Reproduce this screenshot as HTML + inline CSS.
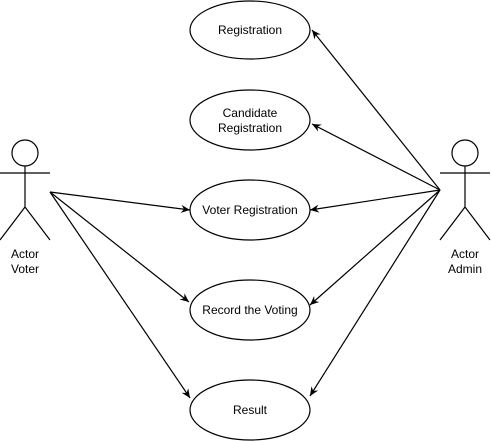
<!DOCTYPE html>
<html><head><style>body{margin:0;background:#fff}svg{display:block}</style></head><body>
<svg width="491" height="441" viewBox="0 0 491 441" xmlns="http://www.w3.org/2000/svg" font-family="Liberation Sans, sans-serif" font-size="12">
<defs><marker id="a" markerWidth="10" markerHeight="10" refX="9" refY="5" orient="auto" markerUnits="userSpaceOnUse"><path d="M0,1 L9,5 L0,9 L3,5 Z" fill="#000"/></marker></defs>
<g fill="#fff" stroke="#000" stroke-width="1.2">
<ellipse cx="250" cy="30" rx="60" ry="29"/>
<ellipse cx="250" cy="120" rx="60" ry="30"/>
<ellipse cx="250" cy="210" rx="60" ry="30"/>
<ellipse cx="250" cy="310" rx="60" ry="30"/>
<ellipse cx="250" cy="410" rx="60" ry="30"/>
<circle cx="25" cy="153" r="13"/>
<circle cx="465" cy="153" r="13"/>
</g>
<g stroke="#000" stroke-width="1.2" fill="none">
<path d="M0 173H50M25 166V207L0 240M25 207L50 240"/>
<path d="M440 173H490M465 166V207L440 240M465 207L490 240"/>
<g marker-end="url(#a)">
<line x1="50" y1="192" x2="190" y2="210"/>
<line x1="50" y1="192" x2="189" y2="302"/>
<line x1="50" y1="192" x2="190" y2="398"/>
<line x1="440" y1="190" x2="312" y2="30"/>
<line x1="440" y1="190" x2="312" y2="124"/>
<line x1="440" y1="190" x2="310" y2="210"/>
<line x1="440" y1="190" x2="310" y2="305"/>
<line x1="440" y1="190" x2="310" y2="396"/>
</g></g>
<g text-anchor="middle" fill="#000">
<text x="250" y="34">Registration</text>
<text x="250" y="117">Candidate</text>
<text x="250" y="132">Registration</text>
<text x="250" y="214">Voter Registration</text>
<text x="250" y="314">Record the Voting</text>
<text x="250" y="414">Result</text>
<text x="25" y="258">Actor</text>
<text x="25" y="273">Voter</text>
<text x="465" y="258">Actor</text>
<text x="465" y="273">Admin</text>
</g>
</svg>
</body></html>
